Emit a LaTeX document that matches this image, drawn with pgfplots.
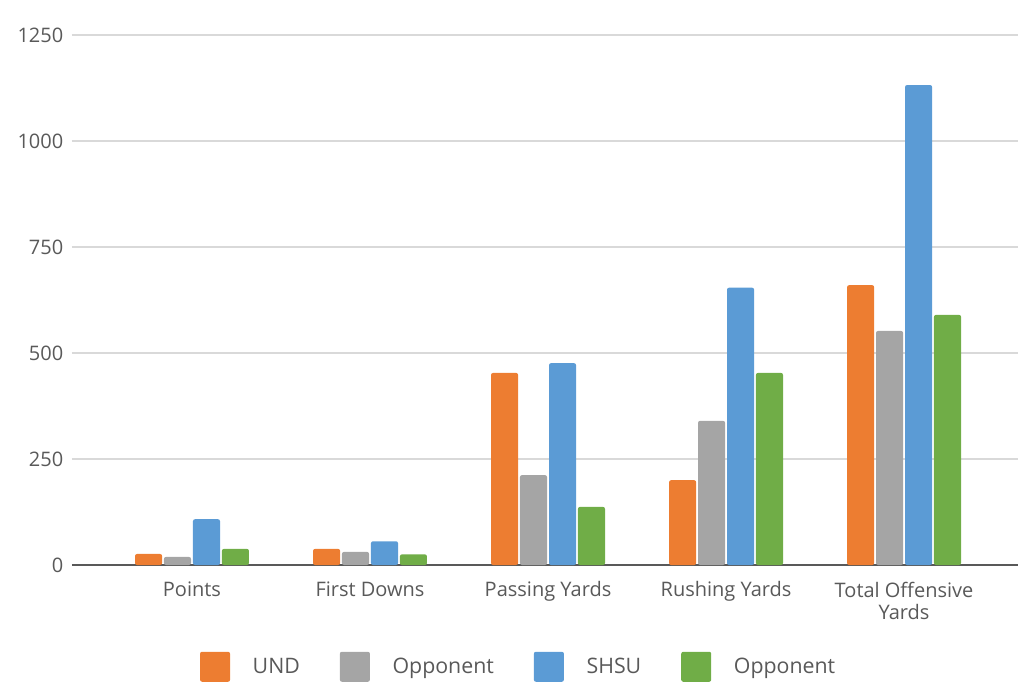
\documentclass[border=0pt]{standalone}
\usepackage{fontspec}
\setmainfont{Open Sans}
\usepackage{pgfplots}
\pgfplotsset{compat=1.18}
\definecolor{cund}{HTML}{ED7D31}
\definecolor{copp}{HTML}{A5A5A5}
\definecolor{cshsu}{HTML}{5B9BD5}
\definecolor{copp2}{HTML}{70AD47}
\definecolor{labgray}{HTML}{595959}
\definecolor{gridgray}{HTML}{D9D9D9}
\begin{document}
\begin{tikzpicture}
\path[use as bounding box] (-54pt,-88.5pt) rectangle (709.5pt,423.75pt);
\begin{axis}[
  at={(0pt,0pt)}, anchor=south west,
  scale only axis, width=709.5pt, height=397.5pt,
  xmin=-0.674, xmax=4.64, ymin=0, ymax=1250,
  ytick={0,250,500,750,1000,1250},
  xtick={0,1,2,3,4},
  xticklabels={Points, First Downs, Passing Yards, Rushing Yards, {Total Offensive\\Yards}},
  axis x line=bottom, axis y line=left,
  y axis line style={draw=none},
  x axis line style={-, draw=labgray, line width=1.2pt},
  major tick length=0pt,
  ymajorgrids, grid style={gridgray, line width=0.9pt},
  /pgf/number format/assume math mode=true,
  /pgf/number format/1000 sep={},
  tick label style={font=\fontsize{15}{17}\selectfont, text=labgray},
  yticklabel style={xshift=-3pt},
  xticklabel style={align=center, yshift=-9pt},
  legend columns=4,
  legend image code/.code={\fill[#1] (0pt,-11.25pt) rectangle (22.5pt,11.25pt);},
  legend style={at={(0.4725,-0.192)}, anchor=center, draw=none, fill=none,
    font=\fontsize{16}{18}\selectfont, text=labgray,
    /tikz/every odd column/.append style={column sep=15pt},
    /tikz/every even column/.append style={column sep=28pt}},
]
\addplot[ybar, fill=cund, draw=none, bar width=0.152, bar shift=-0.244, rounded corners=1.5pt]
  coordinates {(0,26) (1,38) (2,453) (3,200) (4,660)};
\addplot[ybar, fill=copp, draw=none, bar width=0.152, bar shift=-0.0815, rounded corners=1.5pt]
  coordinates {(0,19) (1,31) (2,212) (3,340) (4,552)};
\addplot[ybar, fill=cshsu, draw=none, bar width=0.152, bar shift=0.0815, rounded corners=1.5pt]
  coordinates {(0,108) (1,56) (2,476) (3,654) (4,1132)};
\addplot[ybar, fill=copp2, draw=none, bar width=0.152, bar shift=0.244, rounded corners=1.5pt]
  coordinates {(0,38) (1,25) (2,137) (3,453) (4,590)};
\legend{UND, Opponent, SHSU, Opponent}
\end{axis}
\end{tikzpicture}
\end{document}
